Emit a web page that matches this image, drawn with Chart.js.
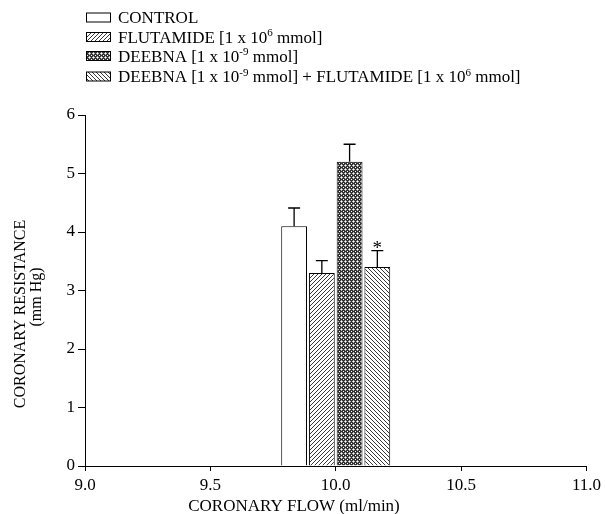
<!DOCTYPE html>
<html>
<head>
<meta charset="utf-8">
<script src="https://cdn.jsdelivr.net/npm/chart.js@4/dist/chart.umd.min.js"></script>
<style>
  body { margin: 0; background: #fff; }
  canvas { display: block; }
</style>
</head>
<body>
<canvas id="flowChart" width="605" height="514"></canvas>
<script>
// values
const groupFlow = 10.0;
const seriesLabels = [
    "CONTROL",
    "FLUTAMIDE [1 x 10^{6} mmol]",
    "DEEBNA [1 x 10^{-9} mmol]",
    "DEEBNA [1 x 10^{-9} mmol] + FLUTAMIDE [1 x 10^{6} mmol]"
];
const resistanceMean = [4.1, 3.3, 5.2, 3.4];
const resistanceErr = [0.31, 0.21, 0.30, 0.28];
const significance = ["", "", "", "*"];
const xTickValues = [9.0, 9.5, 10.0, 10.5, 11.0];
const yTickValues = [0, 1, 2, 3, 4, 5, 6];

const serif = "'Liberation Serif', 'Times New Roman', serif";
Chart.defaults.font.family = serif;
Chart.defaults.font.size = 17;
Chart.defaults.color = "#000";

var canvas = document.getElementById("flowChart");
var ctx = canvas.getContext("2d");

function makePattern(kind) {
    var c = document.createElement("canvas");
    c.width = 4;
    c.height = 4;
    var g = c.getContext("2d");
    g.fillStyle = "#fff";
    g.fillRect(0, 0, 4, 4);
    if (kind === "none") {
        return "#fff";
    }
    if (kind === "forward") {
        g.fillStyle = "#3a3a3a";
        for (let i = 0; i < 4; i++) g.fillRect(i, 3 - i, 1, 1);
    } else if (kind === "back") {
        g.fillStyle = "#3a3a3a";
        for (let i = 0; i < 4; i++) g.fillRect(i, i, 1, 1);
    } else if (kind === "dots") {
        g.fillStyle = "#333";
        g.fillRect(0, 0, 4, 4);
        g.fillStyle = "#bbb";
        g.fillRect(0, 1, 3, 1);
        g.fillRect(1, 0, 1, 3);
        g.fillStyle = "#fff";
        g.fillRect(1, 1, 1, 1);
        g.fillStyle = "#bbb";
        g.fillRect(3, 3, 1, 1);
        g.fillStyle = "#fff";
        g.fillRect(3, 3, 1, 1);
    }
    return ctx.createPattern(c, "repeat");
}

const fills = [makePattern("none"), makePattern("forward"), makePattern("dots"), makePattern("back")];

// draw text with ^{...} pieces as superscripts
function drawRichText(g, text, x, y, size) {
    var parts = text.split(/\^\{([^}]*)\}/);
    var cx = x;
    for (let i = 0; i < parts.length; i++) {
        if (parts[i] === "") continue;
        if (i % 2 === 1) {
            g.font = Math.round(size * 0.62) + "px " + serif;
            g.fillText(parts[i], cx, y - size * 0.38);
        } else {
            g.font = size + "px " + serif;
            g.fillText(parts[i], cx, y);
        }
        cx += g.measureText(parts[i]).width;
    }
}

const whiteBackground = {
    id: "whiteBackground",
    beforeDraw: function(chart) {
        var g = chart.ctx;
        g.save();
        g.fillStyle = "#fff";
        g.fillRect(0, 0, chart.width, chart.height);
        g.restore();
    }
};

const errorBars = {
    id: "errorBars",
    afterDatasetsDraw: function(chart) {
        var g = chart.ctx;
        var yScale = chart.scales.y;
        g.save();
        g.strokeStyle = "#000";
        g.lineWidth = 1.3;
        chart.data.datasets.forEach(function(ds, i) {
            var bar = chart.getDatasetMeta(i).data[0];
            var top = yScale.getPixelForValue(resistanceMean[i] + resistanceErr[i]);
            g.beginPath();
            g.moveTo(bar.x, bar.y);
            g.lineTo(bar.x, top);
            g.moveTo(bar.x - 6, top);
            g.lineTo(bar.x + 6, top);
            g.stroke();
            if (significance[i]) {
                g.fillStyle = "#000";
                g.font = "19px " + serif;
                g.textAlign = "center";
                g.textBaseline = "alphabetic";
                g.fillText(significance[i], bar.x, top + 3);
            }
        });
        g.restore();
    }
};

const figureText = {
    id: "figureText",
    afterDraw: function(chart) {
        var g = chart.ctx;
        g.save();
        g.fillStyle = "#000";
        g.textBaseline = "alphabetic";
        g.textAlign = "left";

        // legend
        var rows = [17.5, 37, 56, 76.5];
        chart.data.datasets.forEach(function(ds, i) {
            g.fillStyle = ds.backgroundColor;
            g.fillRect(86, rows[i] - 4.5, 25, 9);
            g.strokeStyle = "#000";
            g.lineWidth = 1;
            g.strokeRect(86.5, rows[i] - 4.5, 24, 9);
            g.fillStyle = "#000";
            drawRichText(g, ds.label, 118, rows[i] + 5.5, 17);
        });

        // axis titles
        g.font = "17px " + serif;
        g.textAlign = "center";
        g.fillText("CORONARY FLOW (ml/min)", 294, 511);

        g.font = "16px " + serif;
        g.save();
        g.translate(25, 314);
        g.rotate(-Math.PI / 2);
        g.fillText("CORONARY RESISTANCE", 0, 0);
        g.restore();
        g.save();
        g.translate(41, 297);
        g.rotate(-Math.PI / 2);
        g.fillText("(mm Hg)", 0, 0);
        g.restore();

        g.restore();
    }
};

var datasets = seriesLabels.map(function(label, i) {
    return {
        label: label,
        data: [{ x: groupFlow, y: resistanceMean[i] }],
        backgroundColor: fills[i],
        borderColor: "#000",
        borderWidth: 1,
        categoryPercentage: 0.885,
        barPercentage: 0.93
    };
});

new Chart(canvas, {
    type: "bar",
    data: { datasets: datasets },
    options: {
        responsive: false,
        devicePixelRatio: 1,
        animation: false,
        layout: { padding: { top: 115, right: 18, left: 0, bottom: 0 } },
        plugins: {
            legend: { display: false },
            tooltip: { enabled: false }
        },
        scales: {
            x: {
                type: "linear",
                offset: false,
                min: 9,
                max: 11,
                afterBuildTicks: function(scale) {
                    scale.ticks = xTickValues.map(function(v) { return { value: v }; });
                },
                afterFit: function(scale) {
                    scale.height = 48;
                },
                ticks: {
                    padding: 4,
                    callback: function(value) { return value.toFixed(1); }
                },
                grid: { drawOnChartArea: false, tickLength: 5, color: "#000", offset: false },
                border: { color: "#000", width: 1 }
            },
            y: {
                min: 0,
                max: 6,
                afterBuildTicks: function(scale) {
                    scale.ticks = yTickValues.map(function(v) { return { value: v }; });
                },
                afterFit: function(scale) {
                    scale.width = 85;
                },
                ticks: { padding: 3 },
                grid: { drawOnChartArea: false, tickLength: 7, color: "#000" },
                border: { color: "#000", width: 1 }
            }
        }
    },
    plugins: [whiteBackground, errorBars, figureText]
});
</script>
</body>
</html>
